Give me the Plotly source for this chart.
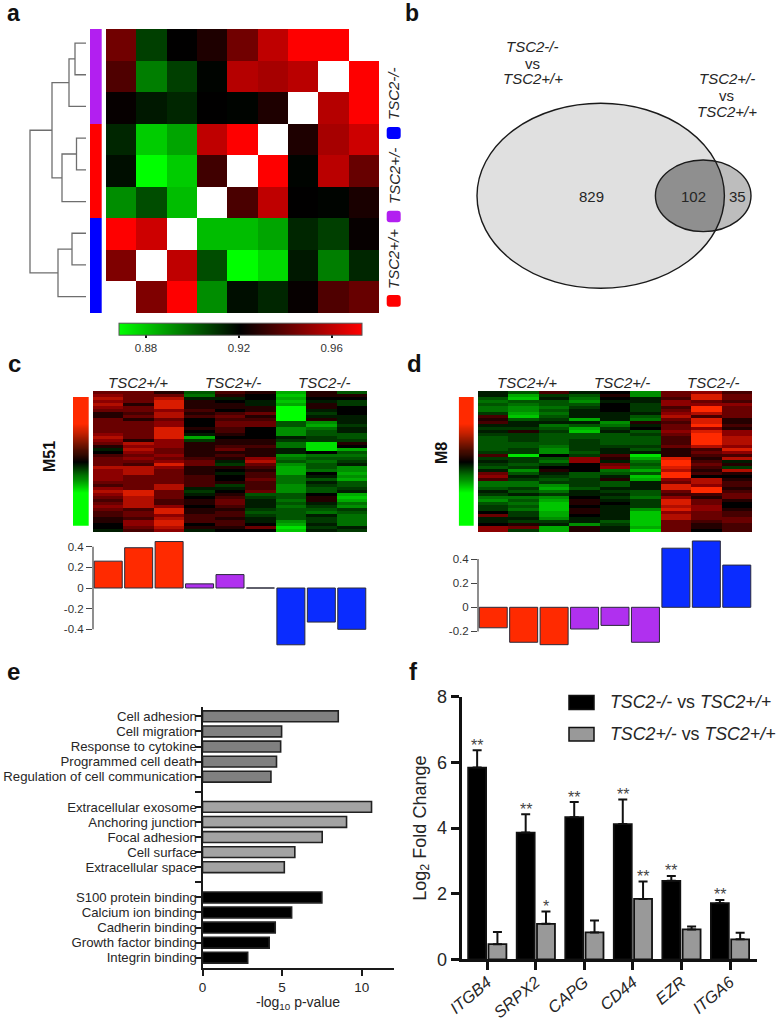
import numpy as np
import plotly.graph_objects as go

W, H = 777, 1019
FONT = "Liberation Sans"
INK = "#262626"

# ---------- panel a ----------
CORR = [
    [.944, .908, .921, .927, .944, .960, .973, .973, None],
    [.937, .895, .908, .920, .958, .955, .959, None, .973],
    [.922, .916, .913, .921, .920, .927, None, .958, .973],
    [.913, .879, .887, .960, .973, None, .927, .955, .963],
    [.918, .868, .879, .934, None, .973, .920, .959, .942],
    [.892, .905, .882, None, .936, .960, .921, .920, .926],
    [.973, .963, None, .882, .882, .887, .913, .908, .922],
    [.947, None, .960, .905, .868, .876, .916, .895, .913],
    [None, .947, .973, .892, .918, .913, .922, .937, .942],
]
GROUP_OF_ROW = [0, 0, 0, 1, 1, 1, 2, 2, 2]
# dendrogram: (child a, child b, merge distance); ids above 8 are earlier merges
LINKAGE = [(0, 1, 11), (3, 4, 9.5), (6, 7, 14), (9, 2, 17), (10, 5, 24), (11, 8, 28), (12, 13, 34), (15, 14, 56)]
CORR_TICKS = [0.88, 0.92, 0.96]
CORR_RANGE = [0.8685, 0.9732]
GROUP_LABELS = ["TSC2-/-", "TSC2+/-", "TSC2+/+"]

# ---------- panel b ----------
VENN_COUNTS = [829, 102, 35]

# ---------- panel c (columns of the module heat map) ----------
M51 = [
 [3,4,5,4,5,4,3,1,1,3,3,3,3,3,4,5,4,3,1,-1,0,2,3,3,3,5,4,4,4,4,3,2,4,5,4,3,2,3,4,3,2,2,1,1,0,0,-1],
 [3,3,3,3,1,3,3,2,3,1,3,3,3,3,3,3,1,5,4,5,4,3,4,3,2,5,5,5,3,3,3,3,3,6,6,5,5,5,5,2,3,3,2,4,4,3,2],
 [1,3,5,6,6,6,4,5,5,3,4,4,6,6,6,6,4,4,4,3,3,4,3,4,6,4,3,3,3,3,3,5,5,3,3,3,2,2,4,6,6,4,5,6,6,5,4],
 [-3,-4,-1,1,1,1,2,1,2,0,0,0,1,0,-1,-6,-2,1,1,1,1,1,2,3,3,1,1,1,2,2,2,2,-1,-2,-1,0,1,1,0,1,1,2,2,2,0,1,-1],
 [2,1,-1,0,1,1,0,2,3,2,3,3,2,2,1,0,1,1,2,3,1,2,1,-1,-2,1,0,-1,0,0,1,-2,-1,0,1,2,3,3,2,1,2,2,1,2,2,1,0],
 [1,0,0,-1,-1,1,1,3,1,2,3,3,0,0,0,0,1,1,2,1,1,1,4,5,3,2,1,2,2,3,2,2,2,3,-3,-2,-1,-1,-1,-2,-3,-2,-1,-1,0,3,0],
 [-6,-7,-6,-7,-6,-9,-9,-9,-9,-9,-3,-3,-5,-5,-5,-1,-2,-4,-4,-1,-1,-5,-4,-3,-5,-6,-6,-6,-4,-4,-4,-5,-5,-5,-3,-3,-4,-3,-4,-3,-3,-3,-3,-5,-6,-8,-7],
 [1,1,0,-1,1,1,-1,-2,-1,1,-5,-6,-4,-3,-3,-2,-2,-8,-8,-8,0,-4,-3,-4,-3,-3,-4,0,-1,-3,-1,-2,-3,-3,0,1,1,-1,-2,-3,-4,-1,-2,-2,-1,-2,-1],
 [-3,1,0,-2,-2,0,0,0,-1,-1,-1,-2,-1,-1,-3,-3,-2,1,0,-6,-3,-4,-3,-2,-1,-5,-5,-6,-5,-6,-3,-3,-2,-1,-6,-7,-6,-4,-5,-2,-3,-4,-4,-4,-4,-1,-2],
]
M51_EIGEN = [0.26, 0.39, 0.45, 0.04, 0.13, 0.0, -0.55, -0.33, -0.40]

# ---------- panel d ----------
M8 = [
 [-1,-1,-3,-4,-3,-4,-4,-2,2,1,2,-1,-2,-1,-2,-3,-3,-3,-3,-3,-2,2,-2,-1,-2,-3,-1,3,4,2,-4,-4,-3,-1,-2,-4,-5,-3,-2,-2,0,3,-1,-1,0,4,4],
 [-3,-6,-7,-3,-4,-5,-5,-6,-7,-3,-1,-1,-2,1,-2,-2,-2,-3,-3,-2,-2,-8,-2,-2,-3,-2,-5,-3,-1,-2,-4,-4,-2,-3,-1,-4,-3,-4,-3,-4,-2,-2,-1,-2,1,3,-2],
 [2,-2,-1,-3,-3,-4,-3,-4,-3,-2,-1,-4,-3,-2,-3,-3,-3,-3,-4,-5,-5,0,-3,-4,-2,0,1,-1,-2,-3,-2,-5,-6,-4,-2,-5,-6,-7,-7,-7,-6,-6,-5,-2,-1,-6,-6],
 [-1,-3,-4,-5,-3,-2,-1,-1,-1,-6,-1,-3,-6,-7,-3,-3,-2,-2,-2,-2,-3,-2,4,4,0,0,0,-3,-3,-2,-2,-2,-3,-1,-1,0,1,1,0,1,1,0,-1,-1,-5,1,1],
 [0,1,0,-1,0,0,0,-1,-1,-1,-5,-4,-2,-1,-3,-3,-3,-3,-2,-1,-1,2,1,-1,3,4,-4,-3,-1,1,-3,-3,-1,-2,-1,-2,-1,0,-1,-1,-1,-1,-1,-3,-2,-1,-1],
 [-5,-5,-1,-1,-2,-2,-2,-1,-3,-4,1,-1,0,-3,-2,-3,-3,-3,-2,-3,-1,-8,-6,-4,-3,-4,-6,-3,-7,-6,-1,-1,-1,-3,-3,-4,-2,-2,-2,-5,-7,-7,-7,-7,-7,-6,-8],
 [3,3,2,4,4,2,3,4,5,3,2,3,3,4,3,2,2,2,3,1,1,1,6,7,7,6,5,7,7,4,3,6,6,3,2,4,6,6,5,6,4,5,5,3,3,3,3],
 [4,6,6,3,4,7,7,5,2,6,6,7,4,6,7,7,7,7,5,2,3,2,1,2,3,2,1,2,0,5,5,4,7,7,2,1,3,3,4,4,3,3,3,2,1,1,0],
 [2,3,3,2,4,3,3,3,3,1,1,2,1,4,4,5,5,5,4,6,4,2,5,-1,1,-2,5,1,0,1,2,2,1,2,3,3,1,0,0,1,2,2,3,3,2,2,2],
]
M8_EIGEN = [-0.17, -0.29, -0.31, -0.18, -0.15, -0.29, 0.49, 0.55, 0.35]
LEVELS = list(range(-20, 21))

# ---------- panel e ----------
TERMS = ["Cell adhesion", "Cell migration", "Response to cytokine", "Programmed cell death",
         "Regulation of cell communication", None,
         "Extracellular exosome", "Anchoring junction", "Focal adhesion", "Cell surface", "Extracellular space", None,
         "S100 protein binding", "Calcium ion binding", "Cadherin binding", "Growth factor binding", "Integrin binding"]
LOGP = [8.53, 4.97, 4.91, 4.65, 4.3, None, 10.62, 9.05, 7.52, 5.8, 5.14, None, 7.5, 5.6, 4.57, 4.19, 2.84]
TERM_COLORS = ["#808080"] * 6 + ["#a3a3a3"] * 6 + ["#000000"] * 5
LOGP_TICKS = [0, 5, 10]

# ---------- panel f ----------
GENES = ["ITGB4", "SRPX2", "CAPG", "CD44", "EZR", "ITGA6"]
KO_FC = [5.84, 3.86, 4.33, 4.12, 2.39, 1.71]
KO_ERR = [0.53, 0.56, 0.46, 0.75, 0.15, 0.10]
KO_STARS = ["**", "**", "**", "**", "**", "**"]
HET_FC = [0.46, 1.08, 0.82, 1.84, 0.91, 0.61]
HET_ERR = [0.37, 0.38, 0.36, 0.53, 0.09, 0.20]
HET_STARS = ["", "*", "", "**", "", ""]

RED, PURPLE, BLUE = "#ff2a00", "#b030ef", "#0a2cff"
BAR_COLORS = [RED] * 3 + [PURPLE] * 3 + [BLUE] * 3

fig = go.Figure()
layout = dict(width=W, height=H, margin=dict(l=0, r=0, t=0, b=0, pad=0, autoexpand=False),
              paper_bgcolor="white", plot_bgcolor="rgba(0,0,0,0)",
              font=dict(family=FONT, color=INK), showlegend=False,
              barmode="group", bargap=0.164, bargroupgap=0.115)
n_axes = [0]
HIDE = dict(visible=False, showgrid=False, zeroline=False)


def axes(x0, x1, y0, y1, xopts=None, yopts=None):
    n_axes[0] += 1
    k = n_axes[0]
    sfx = "" if k == 1 else str(k)
    xo = dict(domain=[x0 / W, x1 / W], anchor="y" + sfx, showgrid=False, zeroline=False)
    yo = dict(domain=[1 - y1 / H, 1 - y0 / H], anchor="x" + sfx, showgrid=False, zeroline=False)
    xo.update(xopts or HIDE)
    yo.update(yopts or HIDE)
    layout["xaxis" + sfx] = xo
    layout["yaxis" + sfx] = yo
    return "x" + sfx, "y" + sfx


annotations, shapes = [], []


def text(x, y, s, size=15, angle=0, anchor="center", color=INK):
    annotations.append(dict(x=x / W, y=1 - y / H, xref="paper", yref="paper", text=s, showarrow=False,
                            font=dict(family=FONT, size=size, color=color), textangle=angle,
                            xanchor=anchor, yanchor="middle", align="center"))


def px(x, y):
    return f"{x / W:.5f},{1 - y / H:.5f}"


def rect(x0, y0, x1, y1, fill, line=None, width=0):
    shapes.append(dict(type="rect", xref="paper", yref="paper", x0=x0 / W, x1=x1 / W, y0=1 - y1 / H, y1=1 - y0 / H,
                       fillcolor=fill, line=dict(color=line or fill, width=width)))


def rounded(x0, y0, x1, y1, r, fill):
    p = (f"M{px(x0 + r, y0)} L{px(x1 - r, y0)} Q{px(x1, y0)} {px(x1, y0 + r)} L{px(x1, y1 - r)} "
         f"Q{px(x1, y1)} {px(x1 - r, y1)} L{px(x0 + r, y1)} Q{px(x0, y1)} {px(x0, y1 - r)} "
         f"L{px(x0, y0 + r)} Q{px(x0, y0)} {px(x0 + r, y0)} Z")
    shapes.append(dict(type="path", xref="paper", yref="paper", path=p, fillcolor=fill, line=dict(width=0)))


def ellipse(cx, cy, rx, ry, fill, line="#1a1a1a", width=1.4):
    shapes.append(dict(type="circle", xref="paper", yref="paper", x0=(cx - rx) / W, x1=(cx + rx) / W,
                       y0=1 - (cy + ry) / H, y1=1 - (cy - ry) / H, fillcolor=fill,
                       line=dict(color=line, width=width)))


# ---- a: correlation heat map ----
xa, ya = axes(106, 379.3, 29, 313.3, dict(visible=False, range=[-0.5, 8.5]), dict(visible=False, range=[8.5, -0.5]))
fig.add_trace(go.Heatmap(z=CORR, xaxis=xa, yaxis=ya, zmin=CORR_RANGE[0], zmax=CORR_RANGE[1], hoverongaps=False,
                         colorscale=[[0, "#00ff00"], [0.5, "#000000"], [1, "#ff0000"]],
                         colorbar=dict(orientation="h", lenmode="pixels", len=243.4, thickness=12.3,
                                       x=119.3 / W, xanchor="left", y=1 - 354.5 / H, yanchor="bottom",
                                       xpad=0, ypad=0, outlinecolor="#555", outlinewidth=1,
                                       tickmode="array", tickvals=CORR_TICKS, ticktext=[f"{t:.2f}" for t in CORR_TICKS],
                                       ticks="outside", ticklen=3, tickwidth=2, tickcolor="#111",
                                       tickfont=dict(size=11.5, color="#333", family=FONT))))
xs, ys = axes(90, 101.7, 29, 313.3, dict(visible=False, range=[-0.5, 0.5]), dict(visible=False, range=[8.5, -0.5]))
fig.add_trace(go.Heatmap(z=[[g] for g in GROUP_OF_ROW], xaxis=xs, yaxis=ys, zmin=0, zmax=2, showscale=False,
                         colorscale=[[0, "#b21ff0"], [0.5, "#ff0000"], [1, "#0000ff"]]))
xd, yd = axes(26, 88, 27.2, 312.5, dict(visible=False, range=[60, -2]), dict(visible=False, range=[8.5, -0.5]))
pos = {i: (float(i), 0.0) for i in range(9)}
segx, segy = [], []
for j, (a, b, h) in enumerate(LINKAGE):
    (ya_, ha), (yb_, hb) = pos[a], pos[b]
    segx += [ha, h, h, hb, None]
    segy += [ya_, ya_, yb_, yb_, None]
    pos[9 + j] = ((ya_ + yb_) / 2, h)
fig.add_trace(go.Scatter(x=segx, y=segy, xaxis=xd, yaxis=yd, mode="lines", line=dict(color="#6e6e6e", width=1.3),
                         hoverinfo="skip"))
for lab, yc in zip(GROUP_LABELS, (94, 176, 259)):
    text(394, yc, f"<i>{lab}</i>", 15, -90)
rounded(386.7, 127, 400.7, 139, 3, "#0000ff")
rounded(386.7, 210.7, 400.7, 222.3, 3, "#b21ff0")
rounded(386.7, 295, 400.7, 306.7, 3, "#ff0000")

# ---- b: venn ----
BIG, SMALL = (600.7, 195.8, 123.7, 92.5), (703.2, 195.8, 47.8, 35.8)
ellipse(*SMALL, "#bdbdbd", width=0)
ellipse(*BIG, "#e0e0e0", width=0)
t = np.linspace(0, 2 * np.pi, 720, endpoint=False)


def inside(P, E):
    return ((P[0] - E[0]) / E[2]) ** 2 + ((P[1] - E[1]) / E[3]) ** 2 <= 1


pb = (BIG[0] + BIG[2] * np.cos(t), BIG[1] + BIG[3] * np.sin(t))
ps = (SMALL[0] + SMALL[2] * np.cos(t), SMALL[1] + SMALL[3] * np.sin(t))
ox = np.r_[pb[0][inside(pb, SMALL)], ps[0][inside(ps, BIG)]]
oy = np.r_[pb[1][inside(pb, SMALL)], ps[1][inside(ps, BIG)]]
order = np.argsort(np.arctan2(oy - oy.mean(), ox - ox.mean()))
shapes.append(dict(type="path", xref="paper", yref="paper", fillcolor="#8f8f8f", line=dict(width=0),
                   path="M" + " L".join(px(a, b) for a, b in zip(ox[order], oy[order])) + " Z"))
ellipse(*BIG, "rgba(0,0,0,0)")
ellipse(*SMALL, "rgba(0,0,0,0)")
for x_, v in zip((591.7, 693, 737.7), VENN_COUNTS):
    text(x_, 196, str(v), 15)
for x_, ys_, lines in ((532.7, (46.7, 63, 79), ("<i>TSC2-/-</i>", "vs", "<i>TSC2+/+</i>")),
                       (726.7, (79, 96, 111.7), ("<i>TSC2+/-</i>", "vs", "<i>TSC2+/+</i>"))):
    for y_, s in zip(ys_, lines):
        text(x_, y_, s, 15)

# ---- c, d: module heat maps + eigengene bars ----
HEAT_SCALE = [[0, "#00ff00"], [0.05, "#00ff00"], [0.5, "#000000"], [0.7, "#8c0000"], [0.85, "#ff2a00"], [1, "#ff2a00"]]
RAMP_SCALE = [[0, "#00ff00"], [0.25, "#00ff00"], [0.5, "#000000"], [0.8, "#ff2a00"], [1, "#ff2a00"]]


def module(x0, x1, lx0, lx1, cols, eigen, name, name_x, name_y, zero_y, per_unit, yr, ticks, ticklabels, label_xs):
    rows = [list(r) for r in zip(*cols)]
    xh, yh = axes(x0, x1, 391, 532, dict(visible=False, range=[-0.5, 8.5]),
                  dict(visible=False, range=[len(rows) - 0.5, -0.5]))
    fig.add_trace(go.Heatmap(z=rows, xaxis=xh, yaxis=yh, zmin=-10, zmax=10, showscale=False, colorscale=HEAT_SCALE))
    xl, yl = axes(lx0, lx1, 397, 525.7, dict(visible=False, range=[-0.5, 0.5]),
                  dict(visible=False, range=[-0.5, len(LEVELS) - 0.5]))
    fig.add_trace(go.Heatmap(z=[[v] for v in LEVELS], xaxis=xl, yaxis=yl, showscale=False, colorscale=RAMP_SCALE,
                             zsmooth="best"))
    xb, yb = axes(x0, x1, zero_y - yr[1] * per_unit, zero_y - yr[0] * per_unit, dict(visible=False, range=[-0.5, 8.5]),
                  dict(visible=True, range=yr, tickmode="array", tickvals=ticks, ticktext=ticklabels,
                       showline=False, ticks="outside", ticklen=6, tickwidth=1.2,
                       tickcolor="#444", tickfont=dict(size=11.5, color="#333", family=FONT)))
    fig.add_trace(go.Bar(x=list(range(9)), y=eigen, xaxis=xb, yaxis=yb, width=0.92,
                         marker=dict(color=BAR_COLORS, line=dict(color="#2a2a3a", width=1))))
    # the drawn axis stops at the outer ticks although the bars run past them
    shapes.append(dict(type="line", xref="paper", yref=yb, x0=x0 / W, x1=x0 / W, y0=ticks[0], y1=ticks[-1],
                       line=dict(color="#444", width=1.2)))
    text(name_x, name_y, f"<b>{name}</b>", 16, -90, color="#111")
    for lx, lab in zip(label_xs, ("TSC2+/+", "TSC2+/-", "TSC2-/-")):
        text(lx, 382, f"<i>{lab}</i>", 15)


module(93, 367, 73, 88.7, M51, M51_EIGEN, "M51", 49, 456, 588, 103.25, [-0.58, 0.48],
       [-0.4, -0.2, 0, 0.2, 0.4], ["-0.4", "-0.2", "0", "0.2", "0.4"], (138, 233, 324))
module(478, 752, 458.7, 474, M8, M8_EIGEN, "M8", 441, 453, 607.3, 120.6, [-0.34, 0.58],
       [-0.2, 0, 0.2, 0.4], ["-0.2", "0", "0.2", "0.4"], (527, 622, 713))

# ---- e: enrichment ----
rows_e = [len(TERMS) - 1 - i for i in range(len(TERMS))]
xe, ye = axes(202.5, 393.5, 706.7, 968,
              dict(visible=True, range=[0, 12], tickmode="array", tickvals=LOGP_TICKS, showline=True, linecolor="#1a1a1a",
                   linewidth=2, ticks="outside", ticklen=6, tickwidth=2, tickcolor="#1a1a1a",
                   tickfont=dict(size=13.5, color=INK, family=FONT)),
              dict(visible=True, range=[-0.68, 16.64], tickmode="array",
                   tickvals=[r for r, s in zip(rows_e, TERMS) if s], ticktext=[s for s in TERMS if s],
                   minor=dict(tickmode="array", tickvals=[r for r, s in zip(rows_e, TERMS) if not s],
                              ticks="outside", ticklen=6, tickwidth=2, tickcolor="#1a1a1a", showgrid=False),
                   showline=True, linecolor="#1a1a1a", linewidth=2, ticks="outside", ticklen=6, tickwidth=2,
                   tickcolor="#1a1a1a", ticklabelstandoff=-5, tickfont=dict(size=13.2, color=INK, family=FONT)))
fig.add_trace(go.Bar(y=rows_e, x=LOGP, orientation="h", xaxis=xe, yaxis=ye, width=0.72,
                     marker=dict(color=TERM_COLORS, line=dict(color="#222", width=1.6))))
text(298, 1003, "-log<sub>10</sub> p-value", 14)

# ---- f: qPCR ----
xf, yf = axes(461.7, 756.7, 696.7, 959.3,
              dict(visible=True, range=[-0.527, 5.55], tickmode="array", tickvals=list(range(6)),
                   ticktext=[f"<i>{g}</i>" for g in GENES], tickangle=-40, showline=True, linecolor="#111",
                   linewidth=3, ticks="outside", ticklen=8, tickwidth=3, tickcolor="#111", ticklabelstandoff=-4,
                   tickfont=dict(size=16.5, color=INK, family=FONT)),
              dict(visible=True, range=[0, 8], tickmode="array", tickvals=[0, 2, 4, 6, 8], showline=True,
                   linecolor="#111", linewidth=3, ticks="outside", ticklen=8, tickwidth=3, tickcolor="#111",
                   tickfont=dict(size=18, color=INK, family=FONT)))
for vals, errs, color in ((KO_FC, KO_ERR, "#000000"), (HET_FC, HET_ERR, "#999999")):
    fig.add_trace(go.Bar(x=list(range(6)), y=vals, xaxis=xf, yaxis=yf,
                         marker=dict(color=color, line=dict(color="#111", width=1.8)),
                         error_y=dict(type="data", array=errs, symmetric=False, arrayminus=[0] * 6,
                                      color="#111", thickness=2, width=4.5)))
for off, vals, errs, stars in ((-0.209, KO_FC, KO_ERR, KO_STARS), (0.209, HET_FC, HET_ERR, HET_STARS)):
    for i, s in enumerate(stars):
        if s:
            annotations.append(dict(x=i + off, y=vals[i] + errs[i], xref=xf, yref=yf, text=s, showarrow=False,
                                    yanchor="middle", xanchor="center", yshift=5,
                                    font=dict(size=16, color="#444", family=FONT)))
text(420.7, 828, "Log<sub>2</sub> Fold Change", 18, -90)
rect(569, 695.5, 594, 709.5, "#000000", "#111", 1.5)
rect(569, 727.5, 594, 741, "#999999", "#111", 1.5)
text(608, 702, "<i>TSC2-/-</i> vs <i>TSC2+/+</i>", 17.8, anchor="left")
text(608, 734, "<i>TSC2+/-</i> vs <i>TSC2+/+</i>", 17.8, anchor="left")

# ---- panel letters ----
for s, x_, y_, size in (("a", 13.7, 13.5, 23), ("b", 411.7, 13.5, 23), ("c", 14, 363, 24), ("d", 414, 363, 24),
                        ("e", 13.7, 671, 24), ("f", 413, 671, 24)):
    text(x_, y_, f"<b>{s}</b>", size, color="#111")

layout["annotations"] = annotations
layout["shapes"] = shapes
fig.update_layout(**layout)
fig.write_html("out.html", config={"displayModeBar": False},
               post_script="document.body.style.margin='0';document.documentElement.style.overflow='hidden';")
